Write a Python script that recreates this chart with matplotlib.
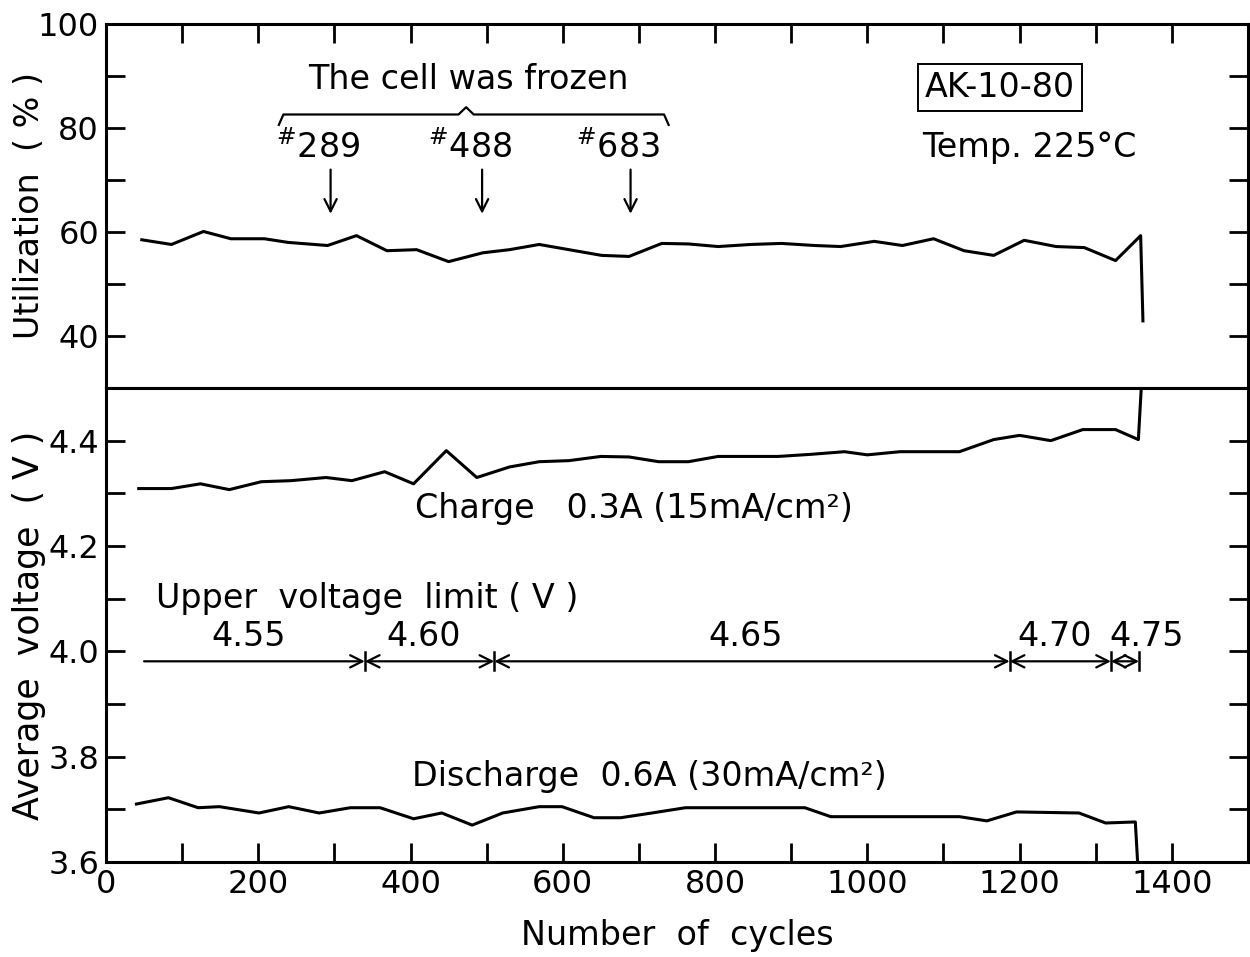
import matplotlib
matplotlib.use("Agg")
import matplotlib.pyplot as plt
import numpy as np

# utilization (%) vs cycle number
util_cycles = [47, 86, 128, 164, 208, 239, 291, 329, 369, 408, 450, 495, 530, 569,
               651, 687, 730, 765, 804, 847, 887, 931, 965, 1009, 1046, 1087, 1127,
               1166, 1206, 1248, 1285, 1326, 1359, 1362]
util_values = [58.5, 57.6, 60.1, 58.7, 58.7, 58.0, 57.4, 59.3, 56.4, 56.6, 54.3, 56.0,
               56.6, 57.6, 55.5, 55.3, 57.8, 57.7, 57.2, 57.6, 57.8, 57.4, 57.2, 58.2,
               57.4, 58.7, 56.4, 55.5, 58.4, 57.2, 57.0, 54.5, 59.3, 42.9]

# average charge voltage (V)
chg_cycles = [43, 86, 124, 162, 204, 243, 289, 323, 366, 404, 447, 487, 530, 569, 608,
              650, 687, 726, 765, 804, 847, 883, 926, 970, 1000, 1043, 1121, 1166, 1200,
              1241, 1283, 1326, 1356, 1360]
chg_values = [4.309, 4.309, 4.318, 4.307, 4.322, 4.324, 4.330, 4.324, 4.341, 4.318,
              4.381, 4.330, 4.350, 4.360, 4.362, 4.370, 4.369, 4.360, 4.360, 4.370,
              4.370, 4.370, 4.374, 4.379, 4.373, 4.379, 4.379, 4.402, 4.410, 4.400,
              4.421, 4.421, 4.402, 4.505]

# average discharge voltage (V)
dis_cycles = [40, 82, 121, 149, 201, 240, 280, 321, 360, 404, 441, 481, 521, 569, 599,
              641, 676, 717, 761, 840, 918, 952, 1000, 1080, 1121, 1157, 1196, 1278,
              1313, 1352, 1355]
dis_values = [3.710, 3.722, 3.703, 3.705, 3.693, 3.705, 3.693, 3.703, 3.703, 3.682,
              3.693, 3.670, 3.693, 3.705, 3.705, 3.684, 3.684, 3.693, 3.703, 3.703,
              3.703, 3.686, 3.686, 3.686, 3.686, 3.678, 3.695, 3.693, 3.674, 3.676, 3.600]

frozen_cycles = [289, 488, 683]
frozen_span = [227, 739]

limit_labels = ["4.55", "4.60", "4.65", "4.70", "4.75"]
limit_edges = [50, 340, 510, 1187, 1320, 1357]

FS = 23      # tick labels
TFS = 24     # annotations
LFS = 25     # axis labels
plt.rcParams["font.family"] = "DejaVu Sans"
plt.rcParams["mathtext.fontset"] = "dejavusans"

fig = plt.figure(figsize=(12.5, 9.57), dpi=100)
ax1 = fig.add_axes([0.0848, 0.5946, 0.9136, 0.3803])
ax2 = fig.add_axes([0.0848, 0.0993, 0.9136, 0.4953])

for ax in (ax1, ax2):
    ax.set_xlim(0, 1500)
    for s in ax.spines.values():
        s.set_linewidth(2.2)
    ax.tick_params(direction="in", length=14, width=2, labelsize=FS, pad=5,
                   right=True)

# ---- top panel ----
ax1.plot(util_cycles, util_values, color="black", lw=2.2)
ax1.set_ylim(30, 100)
ax1.set_yticks(np.arange(30, 101, 10))
ax1.set_yticklabels(["", "40", "", "60", "", "80", "", "100"])
ax1.set_xticks(np.arange(0, 1501, 100))
ax1.tick_params(axis="x", top=True, bottom=False, labelbottom=False)
ax1.set_ylabel("Utilization  ( % )", fontsize=LFS - 1, va="center")
ax1.yaxis.set_label_coords(-0.067, 0.5)

ax1.text(476, 89.3, "The cell was frozen", fontsize=TFS, ha="center", va="center")

# curly brace over the frozen cycles
bx0, bx1 = frozen_span
bmid = (bx0 + bx1) / 2 - 10
by = 82.6
brace_x = [bx0, bx0 + 6, bmid - 10, bmid, bmid + 10, bx1 - 6, bx1]
brace_y = [by - 2.0, by, by, by + 1.4, by, by, by - 2.0]
ax1.plot(brace_x, brace_y, color="black", lw=1.6)

for c in frozen_cycles:
    ax1.text(c - 10, 74.3, r"$^{\#}$" + str(c), fontsize=TFS, ha="center",
             va="baseline")
    ax1.annotate("", xy=(c + 6, 63.5), xytext=(c + 6, 72.0),
                 arrowprops=dict(arrowstyle="->", lw=1.6, color="black",
                                 mutation_scale=22, shrinkA=0, shrinkB=0))

ax1.text(1174, 87.8, "AK-10-80", fontsize=TFS, ha="center", va="center",
         bbox=dict(boxstyle="square,pad=0.2", fc="white", ec="black", lw=1.4))
ax1.text(1213, 76.3, "Temp. 225°C", fontsize=TFS, ha="center", va="center")

# ---- bottom panel ----
ax2.plot(chg_cycles, chg_values, color="black", lw=2.2)
ax2.plot(dis_cycles, dis_values, color="black", lw=2.2)
ax2.set_ylim(3.6, 4.5)
ax2.set_yticks(np.arange(3.6, 4.45, 0.1))
ax2.set_yticklabels(["3.6", "", "3.8", "", "4.0", "", "4.2", "", "4.4"])
ax2.set_xticks(np.arange(0, 1501, 100))
ax2.set_xticklabels([str(v) if v % 200 == 0 and v < 1500 else "" for v in range(0, 1501, 100)])
ax2.tick_params(axis="x", top=False)
ax2.set_xlabel("Number  of  cycles", fontsize=LFS - 1, labelpad=14)
ax2.set_ylabel("Average  voltage  ( V )", fontsize=LFS, va="center")
ax2.yaxis.set_label_coords(-0.067, 0.5)

ax2.text(406, 4.272, "Charge   0.3A (15mA/cm²)", fontsize=TFS, va="center")
ax2.text(402, 3.762, "Discharge  0.6A (30mA/cm²)", fontsize=TFS, va="center")
ax2.text(66, 4.10, "Upper  voltage  limit ( V )", fontsize=TFS, va="center")

# upper voltage limit segments
ly = 3.981
for i, lab in enumerate(limit_labels):
    x0, x1 = limit_edges[i], limit_edges[i + 1]
    style = "->" if i == 0 else "<->"
    ax2.annotate("", xy=(x1, ly), xytext=(x0, ly),
                 arrowprops=dict(arrowstyle=style, lw=1.6, color="black",
                                 mutation_scale=22, shrinkA=0, shrinkB=0))
    if i == len(limit_labels) - 1:
        ax2.text(x0 - 2, ly + 0.015, lab, fontsize=TFS, ha="left", va="bottom")
    else:
        ax2.text((x0 + x1) / 2 - 8, ly + 0.015, lab, fontsize=TFS,
                 ha="center", va="bottom")
for x in limit_edges[1:]:
    ax2.plot([x, x], [ly - 0.017, ly + 0.017], color="black", lw=1.8)

fig.savefig("out.png", dpi=100)
